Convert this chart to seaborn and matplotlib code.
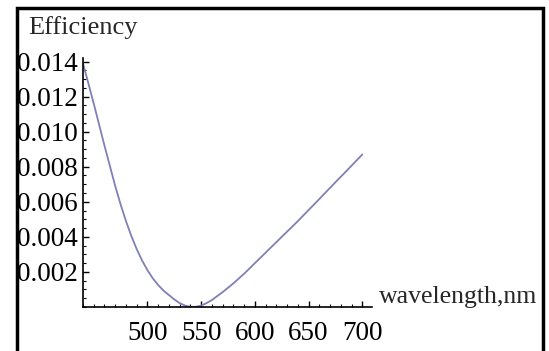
import matplotlib
matplotlib.use("Agg")
import matplotlib.pyplot as plt
from matplotlib.patches import Rectangle
from matplotlib.ticker import MultipleLocator
import seaborn as sns
import pandas as pd

wavelength = [440, 445, 450, 455, 460, 465, 470, 475, 480, 485, 490, 495, 500, 505, 510,
              515, 520, 525, 530, 535, 540, 545, 550, 555, 560, 570, 580, 590, 600, 610,
              620, 630, 640, 650, 660, 670, 680, 690, 700]
efficiency = [0.0139, 0.01275, 0.0116, 0.0104, 0.0092, 0.00805, 0.0069, 0.00585, 0.0049,
              0.00405, 0.0033, 0.00265, 0.0021, 0.00163, 0.00125, 0.00093, 0.00068,
              0.00043, 0.00022, 0.00008, 0.00001, 0.00001, 0.00008, 0.00022, 0.00040,
              0.00085, 0.00135, 0.0019, 0.0025, 0.0031, 0.0037, 0.0043, 0.0049, 0.00553,
              0.00616, 0.0068, 0.00743, 0.00806, 0.0087]
x_ticks = [500, 550, 600, 650, 700]
y_ticks = [0.002, 0.004, 0.006, 0.008, 0.010, 0.012, 0.014]
y_tick_labels = ["0.002", "0.004", "0.006", "0.008", "0.010", "0.012", "0.014"]

df = pd.DataFrame({"wavelength": wavelength, "efficiency": efficiency})

sns.set_style("white")
plt.rcParams["font.family"] = ["Liberation Serif", "DejaVu Serif"]

fig = plt.figure(figsize=(5.49, 3.51), dpi=100)
ax = fig.add_axes([83 / 549, 44 / 351, 289 / 549, 249 / 351])

sns.lineplot(data=df, x="wavelength", y="efficiency", ax=ax, color="#8080b8", linewidth=1.3)

ax.set_xlim(440, 709)
ax.set_ylim(0, 0.0142)
ax.set_xticks(x_ticks)
ax.set_yticks(y_ticks)
ax.set_yticklabels(y_tick_labels)
ax.xaxis.set_minor_locator(MultipleLocator(10))
ax.yaxis.set_minor_locator(MultipleLocator(0.0005))

for side in ["top", "right"]:
    ax.spines[side].set_visible(False)
for side in ["left", "bottom"]:
    ax.spines[side].set_color("black")
    ax.spines[side].set_linewidth(1.2)

ax.tick_params(axis="both", which="major", direction="in", length=4, width=1, color="black",
               labelsize=19.5, labelcolor="black")
ax.tick_params(axis="both", which="minor", direction="in", length=2, width=0.8, color="black")
ax.tick_params(axis="x", which="major", pad=10)
ax.tick_params(axis="y", which="major", pad=4)
ax.tick_params(axis="both", which="both", bottom=True, left=True)
ax.set_xlabel("")
ax.set_ylabel("")
ax.patch.set_alpha(0)

fig.text(28 / 549, 1 - 34 / 351, "Efficiency", fontsize=19, ha="left", va="baseline")
fig.text(379 / 549, 1 - 303 / 351, "wavelength,nm", fontsize=18.5, ha="left", va="baseline")

frame = Rectangle((17 / 549, -0.05), (543 - 17) / 549, 1.05 - 8 / 351,
                  transform=fig.transFigure, fill=False, edgecolor="black", linewidth=2.5)
fig.patches.append(frame)

fig.savefig("out.png", dpi=100)
